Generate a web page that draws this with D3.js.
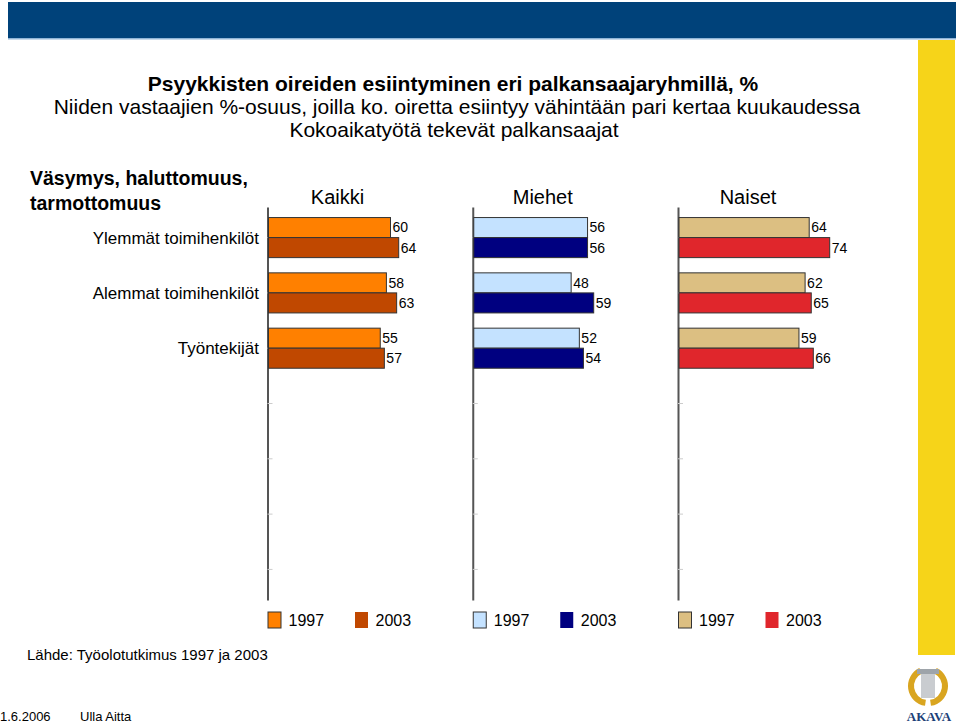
<!DOCTYPE html>
<html>
<head>
<meta charset="utf-8">
<script src="https://cdn.jsdelivr.net/npm/d3@7"></script>
<style>
  html, body { margin: 0; padding: 0; background: #fff; }
  svg { display: block; font-family: "Liberation Sans", Arial, sans-serif; }
</style>
</head>
<body>
<svg id="chart" width="960" height="726"></svg>
<script>
// ---- data ----
const titleLines = [
  "Psyykkisten oireiden esiintyminen eri palkansaajaryhmillä, %",
  "Niiden vastaajien %-osuus, joilla ko. oiretta esiintyy vähintään pari kertaa kuukaudessa",
  "Kokoaikatyötä tekevät palkansaajat"
];
const heading = ["Väsymys, haluttomuus,", "tarmottomuus"];
const groups = ["Ylemmät toimihenkilöt", "Alemmat toimihenkilöt", "Työntekijät"];
const emptySlots = ["_4", "_5", "_6", "_7"];
const panels = ["Kaikki", "Miehet", "Naiset"];
const years = ["1997", "2003"];
const kaikki1997 = [60, 58, 55];
const kaikki2003 = [64, 63, 57];
const miehet1997 = [56, 48, 52];
const miehet2003 = [56, 59, 54];
const naiset1997 = [64, 62, 59];
const naiset2003 = [74, 65, 66];
const source = "Lähde: Työolotutkimus 1997 ja 2003";
const footerDate = "1.6.2006";
const footerAuthor = "Ulla Aitta";

const colors = {
  Kaikki: ["#ff8000", "#c04800"],
  Miehet: ["#c4e2ff", "#000080"],
  Naiset: ["#dcbf82", "#e0262c"]
};
const seriesByPanel = {
  Kaikki: [kaikki1997, kaikki2003],
  Miehet: [miehet1997, miehet2003],
  Naiset: [naiset1997, naiset2003]
};

const svg = d3.select("#chart");

// ---- decorative frame ----
svg.append("rect").attr("x", 8).attr("y", 2).attr("width", 948).attr("height", 36).attr("fill", "#00427a");
svg.append("rect").attr("x", 8).attr("y", 38).attr("width", 948).attr("height", 1.5).attr("fill", "#8fb4d6");
svg.append("rect").attr("x", 918).attr("y", 40).attr("width", 37).attr("height", 615).attr("fill", "#f6d419");

// logo
const logo = svg.append("g").attr("transform", "translate(928,686)");
const wreath = d3.arc().innerRadius(14).outerRadius(20);
logo.append("path").attr("d", wreath({startAngle: 0.45, endAngle: Math.PI - 0.15})).attr("fill", "#d9a520");
logo.append("path").attr("d", wreath({startAngle: Math.PI + 0.15, endAngle: 2 * Math.PI - 0.45})).attr("fill", "#d9a520");
logo.append("rect").attr("x", -7).attr("y", -12).attr("width", 14).attr("height", 24).attr("fill", "#c9ccd0");
logo.append("rect").attr("x", -11).attr("y", -17).attr("width", 22).attr("height", 5).attr("fill", "#9ea4aa");
svg.append("text").attr("x", 929).attr("y", 721).attr("text-anchor", "middle")
  .attr("font-family", "Liberation Serif, serif").attr("font-weight", "bold")
  .attr("font-size", 13).attr("fill", "#1c3f78").text("AKAVA");

// ---- titles ----
svg.append("text").attr("x", 453).attr("y", 91).attr("text-anchor", "middle")
  .attr("font-size", 21).attr("font-weight", "bold").text(titleLines[0]);
svg.append("text").attr("x", 457).attr("y", 114).attr("text-anchor", "middle")
  .attr("font-size", 21).text(titleLines[1]);
svg.append("text").attr("x", 454).attr("y", 137).attr("text-anchor", "middle")
  .attr("font-size", 21).text(titleLines[2]);

svg.append("text").attr("x", 30).attr("y", 185).attr("font-size", 19.5).attr("font-weight", "bold").text(heading[0]);
svg.append("text").attr("x", 30).attr("y", 210).attr("font-size", 19.5).attr("font-weight", "bold").text(heading[1]);

// ---- scales ----
const y = d3.scaleBand().domain(groups.concat(emptySlots)).range([207, 600]).paddingInner(0).paddingOuter(0.053);
const yy = d3.scaleBand().domain(years).range([0, y.bandwidth()]).paddingInner(0).paddingOuter(0.38);
const px = d3.scaleBand().domain(panels).range([267.5, 267.5 + 3 * 205.25]);
const x = d3.scaleLinear().domain([0, 100]).range([0, 205]);

// category labels
svg.append("g").selectAll("text").data(groups).join("text")
  .attr("x", 259).attr("y", d => y(d) + y.bandwidth() / 2)
  .attr("dy", "0.35em").attr("text-anchor", "end").attr("font-size", 17).text(d => d);

// ---- panels ----
panels.forEach(p => {
  const g = svg.append("g").attr("transform", `translate(${px(p)},0)`);
  // axis
  const ax = g.append("g").call(d3.axisRight(y).tickSize(5).tickSizeOuter(0).tickFormat(""));
  ax.select(".domain").attr("stroke", "#555").attr("stroke-width", 2);
  ax.selectAll(".tick line").attr("stroke", "#ccc");

  // panel title
  g.append("text").attr("x", 70).attr("y", 204).attr("text-anchor", "middle")
    .attr("font-size", 20).text(p);

  const series = seriesByPanel[p];
  years.forEach((yr, si) => {
    const vals = series[si];
    const gg = g.append("g");
    gg.selectAll("rect").data(groups).join("rect")
      .attr("x", 1).attr("y", (d) => y(d) + yy(yr))
      .attr("width", (d, i) => x(vals[i]) - 1).attr("height", yy.bandwidth())
      .attr("fill", colors[p][si]).attr("stroke", "#333").attr("stroke-width", 1);
    gg.selectAll("text").data(groups).join("text")
      .attr("x", (d, i) => x(vals[i]) + 2)
      .attr("y", d => y(d) + yy(yr) + yy.bandwidth() / 2)
      .attr("dy", "0.35em").attr("font-size", 14).text((d, i) => vals[i]);
  });

  // legend
  const lg = g.append("g").attr("transform", "translate(0,612)");
  years.forEach((yr, si) => {
    const ox = si * 87;
    lg.append("rect").attr("x", ox + 0.5).attr("y", 0).attr("width", 13).attr("height", 16)
      .attr("fill", colors[p][si]).attr("stroke", si === 0 ? "#333" : "none");
    lg.append("text").attr("x", ox + 21).attr("y", 8).attr("dy", "0.35em")
      .attr("font-size", 16).text(yr);
  });
});

// ---- source & footer ----
svg.append("text").attr("x", 27).attr("y", 660).attr("font-size", 15).text(source);
svg.append("text").attr("x", 0).attr("y", 721).attr("font-size", 13).text(footerDate);
svg.append("text").attr("x", 80).attr("y", 721).attr("font-size", 13).text(footerAuthor);
</script>
</body>
</html>
